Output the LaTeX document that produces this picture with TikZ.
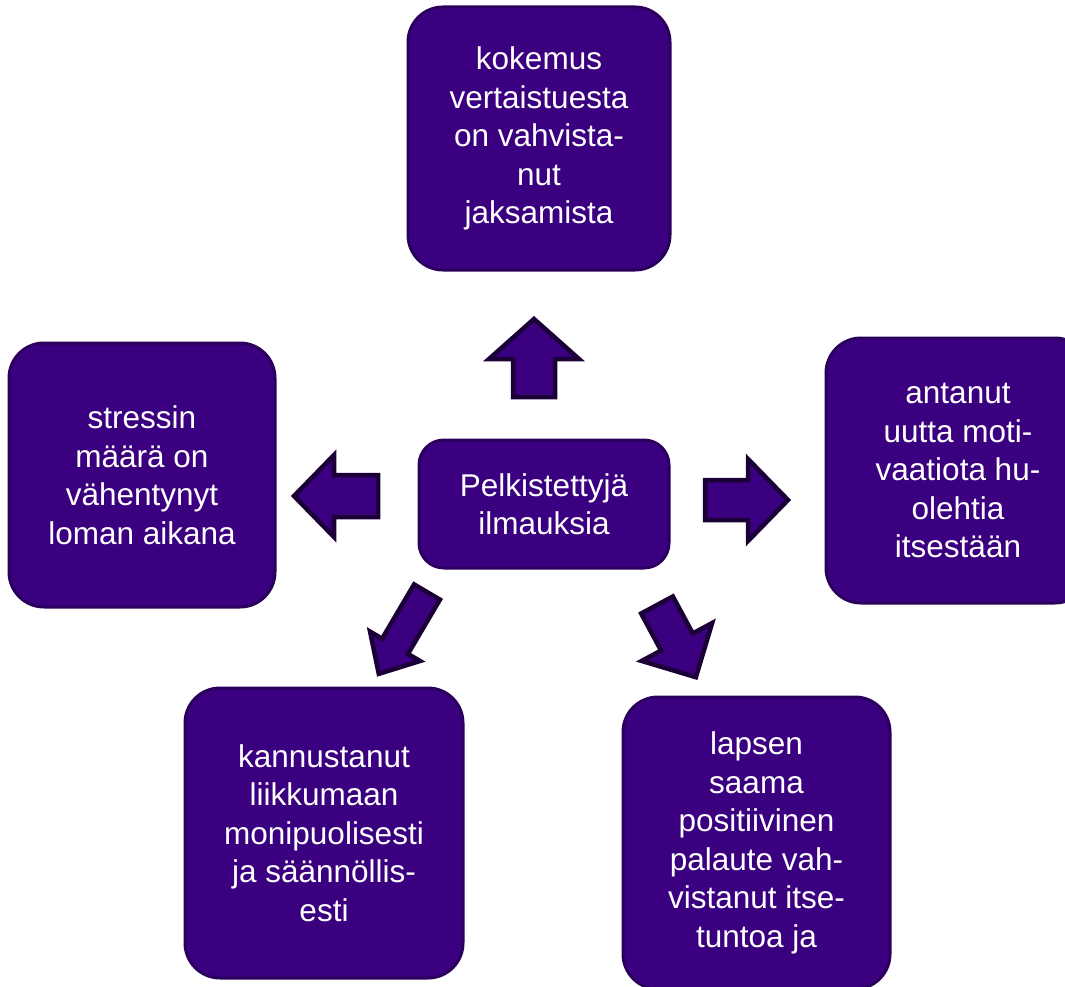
\documentclass[tikz,border=0pt]{standalone}
\usepackage{fontspec}
\setmainfont{Liberation Sans}
\usepackage{tikz}
\usetikzlibrary{calc}

\definecolor{boxfill}{HTML}{3A0080}
\definecolor{boxline}{HTML}{2A005C}
\definecolor{arrowline}{HTML}{1A0036}

\tikzset{
    ideabox/.style={draw=boxline, line width=3pt, fill=boxfill, rounded corners=35pt,
        inner sep=0pt, align=center, text=white,
        font=\fontsize{31.5}{38.5}\selectfont},
    blockarrow/.style={draw=arrowline, line width=4.5pt, fill=boxfill, line join=miter}
}

\begin{document}
\begin{tikzpicture}[x=1pt, y=1pt]
    \useasboundingbox (0,0) rectangle (1065,-987);
    \clip (0,0) rectangle (1065,-987);
    \node[ideabox, minimum width=250pt, minimum height=128pt, rounded corners=25pt] (keski) at (544,-504) {Pelkistettyjä\\ilmauksia};
    \node[ideabox, minimum width=262pt, minimum height=263pt] (kokemus) at (539,-138.5) {kokemus\\vertaistuesta\\on vahvista-\\nut\\jaksamista};
    \node[ideabox, minimum width=266pt, minimum height=264pt] (stressi) at (142,-475) {stressin\\määrä on\\vähentynyt\\loman aikana};
    \node[ideabox, minimum width=264pt, minimum height=265pt] (motivaatio) at (958,-470.5) {antanut\\uutta moti-\\vaatiota hu-\\olehtia\\itsestään};
    \node[ideabox, minimum width=278pt, minimum height=290pt] (liikunta) at (324,-833) {kannustanut\\liikkumaan\\monipuolisesti\\ja säännöllis-\\esti};
    \node[ideabox, minimum width=267pt, minimum height=292pt] (palaute) at (756.5,-843) {lapsen\\saama\\positiivinen\\palaute vah-\\vistanut itse-\\tuntoa ja};
    \foreach \x/\y/\ang/\sl/\sw/\hw/\hl in {534/-397/90/38/21/45/40, 378/-496/180/44/21/41/40,
        705/-500/0/43/20/41/40, 427/-592/239.5/63/15/29/32, 657/-605/-61.7/42/18/40/40}
        \draw[blockarrow, shift={(\x,\y)}, rotate=\ang] (0,-\sw) -- (\sl,-\sw) -- (\sl,-\hw)
            -- ({\sl+\hl},0) -- (\sl,\hw) -- (\sl,\sw) -- (0,\sw) -- cycle;
\end{tikzpicture}
\end{document}
